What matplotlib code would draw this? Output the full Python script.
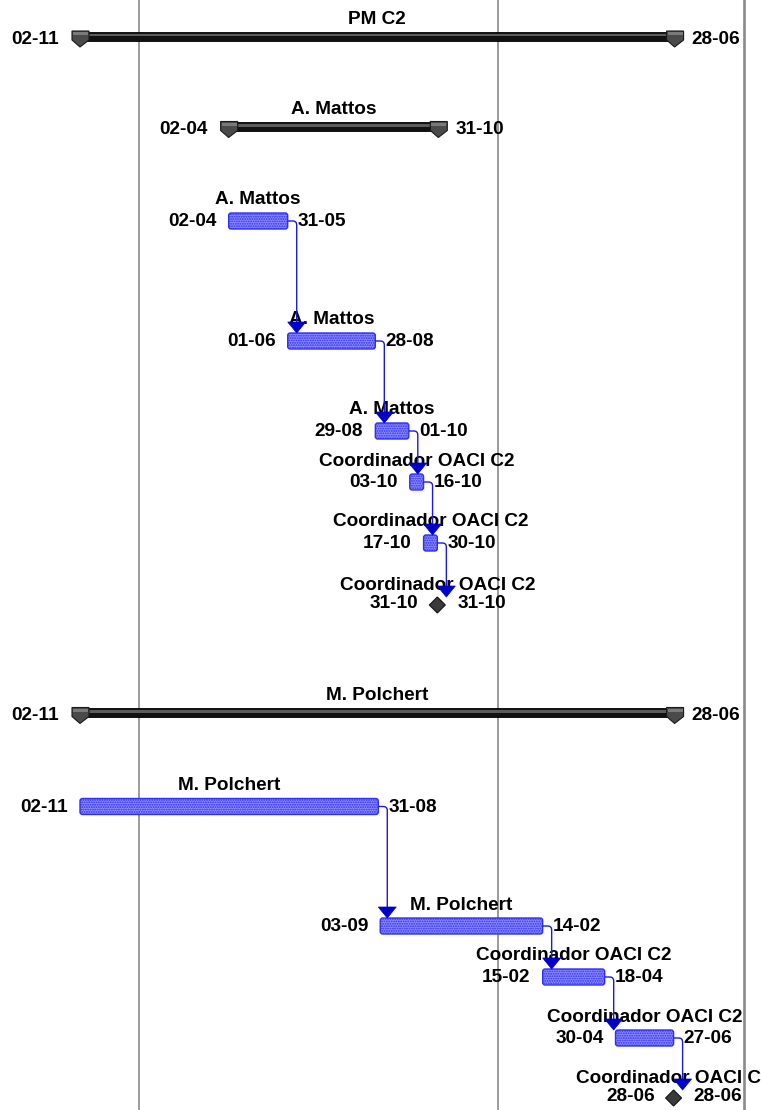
import matplotlib
matplotlib.use('Agg')
import matplotlib.pyplot as plt
import matplotlib.dates as mdates
import datetime as dt
from matplotlib.patches import FancyBboxPatch, Polygon, Rectangle, PathPatch
from matplotlib.path import Path

plt.rcParams['font.family'] = ['Liberation Sans', 'DejaVu Sans']
plt.rcParams['hatch.linewidth'] = 0.9

# ---------------- data ----------------
names = ['PM C2', 'A. Mattos', 'A. Mattos', 'A. Mattos', 'A. Mattos',
         'Coordinador OACI C2', 'Coordinador OACI C2', 'Coordinador OACI C2',
         'M. Polchert', 'M. Polchert', 'M. Polchert',
         'Coordinador OACI C2', 'Coordinador OACI C2', 'Coordinador OACI C2']
starts = ['2009-11-02', '2010-04-02', '2010-04-02', '2010-06-01', '2010-08-29',
          '2010-10-03', '2010-10-17', '2010-10-31',
          '2009-11-02', '2009-11-02', '2010-09-03',
          '2011-02-15', '2011-04-30', '2011-06-28']
finishes = ['2011-06-28', '2010-10-31', '2010-05-31', '2010-08-28', '2010-10-01',
            '2010-10-16', '2010-10-30', '2010-10-31',
            '2011-06-28', '2010-08-31', '2011-02-14',
            '2011-04-18', '2011-06-27', '2011-06-28']
kinds = ['summary', 'summary', 'task', 'task', 'task', 'task', 'task', 'milestone',
         'summary', 'task', 'task', 'task', 'task', 'milestone']
links = [(2, 3), (3, 4), (4, 5), (5, 6), (6, 7),
         (9, 10), (10, 11), (11, 12), (12, 13)]
year_lines = ['2010-01-01', '2011-01-01']
timescale_end = '2011-09-08'

# ---------------- layout ----------------
W, H = 761, 1110
first_row = 36
row_gaps = [90.5, 94.5, 120, 90, 51, 61, 62, 107.5, 94, 119.5, 51, 61, 60]
left_px = 80          # pixel position of project start
ppd = 0.9844          # pixels per day

def d(s):
    return mdates.date2num(dt.datetime.strptime(s, '%Y-%m-%d'))

def lab(s):
    return dt.datetime.strptime(s, '%Y-%m-%d').strftime('%d-%m')

row_y = [first_row]
for g in row_gaps:
    row_y.append(row_y[-1] + g)

fig = plt.figure(figsize=(W / 100, H / 100), dpi=100)
ax = fig.add_axes([0, 0, 1, 1])
ax.axis('off')
t0 = d(min(starts))
ax.set_xlim(t0 - left_px / ppd, t0 + (W - left_px) / ppd)
ax.set_ylim(H, 0)
px = 1 / ppd  # one pixel in days

# gridlines
for yl in year_lines:
    ax.axvline(d(yl), color='#808080', lw=1.1, zorder=0)
ax.axvline(d(timescale_end), color='#8a8a8a', lw=1.9, zorder=0)

FS = 13.7
txt = dict(fontsize=FS, fontweight='bold', color='black', zorder=5)

BLUE_FACE = '#8c8cff'
BLUE_EDGE = '#2f2ff5'
LINK = '#1a1ad8'
ARROW = '#0000c8'

x0s = [d(s) for s in starts]
x1s = [d(f) + 1 for f in finishes]

for i, kind in enumerate(kinds):
    yc = row_y[i]
    x0, x1 = x0s[i], x1s[i]
    if kind == 'summary':
        ax.add_patch(Rectangle((x0, yc - 4.5), x1 - x0, 9, facecolor='#111111',
                               edgecolor='#000000', lw=0.6, zorder=2))
        ax.add_patch(Rectangle((x0, yc - 2.5), x1 - x0, 2.5, facecolor='#5c5c5c',
                               edgecolor='none', zorder=2.1))
        for xc in (x0, x1):
            cap = [(xc - 8 * px, yc - 5), (xc + 9 * px, yc - 5), (xc + 9 * px, yc + 4),
                   (xc, yc + 11), (xc - 8 * px, yc + 4)]
            ax.add_patch(Polygon(cap, closed=True, facecolor='#4a4a4a',
                                 edgecolor='#1a1a1a', lw=0.8, zorder=3))
            ax.add_patch(Rectangle((xc - 7 * px, yc - 4), 15 * px, 3, facecolor='#7a7a7a',
                                   edgecolor='none', zorder=3.1))
        xm = (x0 + x1) / 2
        ax.text(xm, yc - 12.5, names[i], ha='center', va='baseline', **txt)
        ax.text(x0 - 21 * px, yc + 8, lab(starts[i]), ha='right', va='baseline', **txt)
        ax.text(x1 + 17 * px, yc + 8, lab(finishes[i]), ha='left', va='baseline', **txt)
    elif kind == 'task':
        ax.add_patch(FancyBboxPatch((x0, yc - 8), x1 - x0, 16,
                                    boxstyle='round,pad=0,rounding_size=2.5',
                                    facecolor=BLUE_FACE, edgecolor=BLUE_EDGE,
                                    hatch='.......', lw=1.0, zorder=2))
        xm = (x0 + x1) / 2
        ax.text(xm, yc - 16.5, names[i], ha='center', va='baseline', **txt)
        ax.text(x0 - 12 * px, yc + 5, lab(starts[i]), ha='right', va='baseline', **txt)
        ax.text(x1 + 10 * px, yc + 5, lab(finishes[i]), ha='left', va='baseline', **txt)
    else:  # milestone
        xc = x0
        dia = [(xc - 8 * px, yc), (xc, yc - 8), (xc + 8 * px, yc), (xc, yc + 8)]
        ax.add_patch(Polygon(dia, closed=True, facecolor='#3a3a3a',
                             edgecolor='#111111', lw=0.8, zorder=3))
        ax.text(xc, yc - 15, names[i], ha='center', va='baseline', **txt)
        ax.text(xc - 19 * px, yc + 3, lab(starts[i]), ha='right', va='baseline', **txt)
        ax.text(xc + 20 * px, yc + 3, lab(finishes[i]), ha='left', va='baseline', **txt)

# dependency links
for a, b in links:
    xe = x1s[a]
    ya = row_y[a]
    xa = xe + 9 * px
    ytip = row_y[b] - 8
    r = 4
    verts = [(xe, ya), (xa - r * px, ya), (xa, ya), (xa, ya + r), (xa, ytip - 10)]
    codes = [Path.MOVETO, Path.LINETO, Path.CURVE3, Path.CURVE3, Path.LINETO]
    ax.add_patch(PathPatch(Path(verts, codes), facecolor='none', edgecolor=LINK,
                           lw=1.0, zorder=6))
    tri = [(xa - 9 * px, ytip - 11), (xa + 9 * px, ytip - 11), (xa, ytip)]
    ax.add_patch(Polygon(tri, closed=True, facecolor=ARROW, edgecolor=ARROW,
                         lw=0.5, zorder=7))

fig.savefig('out.png', dpi=100)
